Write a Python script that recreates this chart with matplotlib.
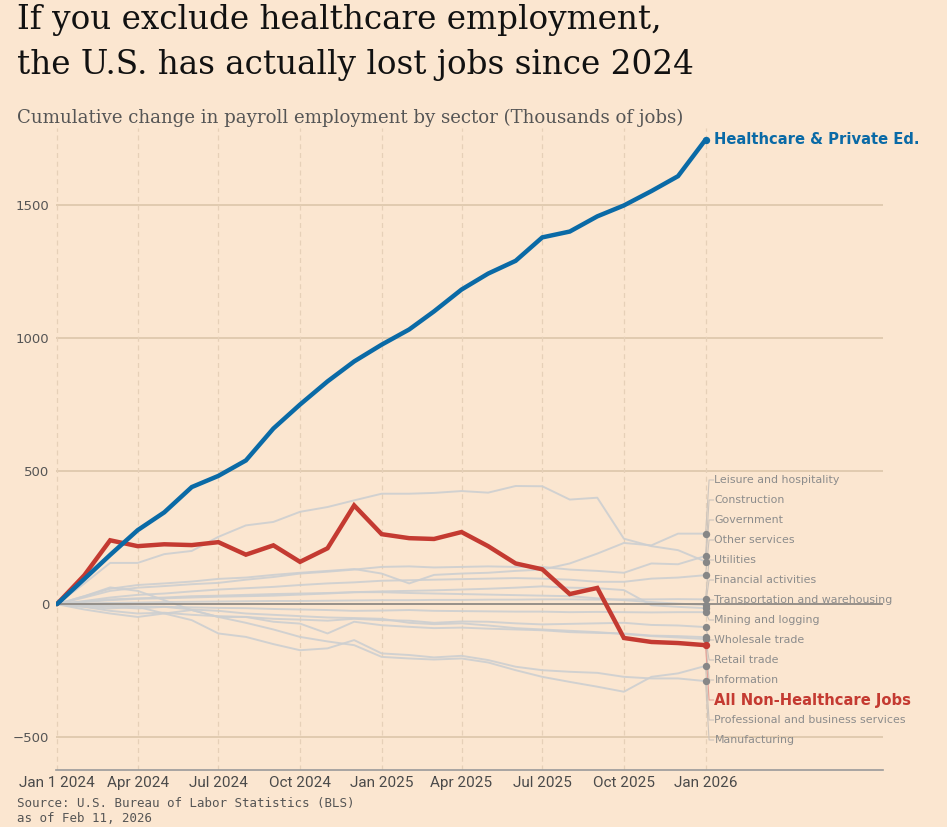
import matplotlib
matplotlib.use("Agg")
import matplotlib.pyplot as plt
import pandas as pd
import numpy as np

# ---------------- data ----------------
months = pd.date_range("2024-01-01", "2026-01-01", freq="MS")

healthcare = [0, 95, 185, 278, 345, 440, 482, 540, 660, 750, 837, 912,
              975, 1032, 1100, 1182, 1242, 1290, 1378, 1400, 1457, 1498, 1552, 1608, 1745]
non_healthcare = [0, 109, 240, 218, 225, 222, 233, 186, 221, 159, 210, 371,
                  263, 248, 245, 271, 218, 153, 131, 38, 61, -127, -142, -146, -154]

leisure = [0, 30, 58, 72, 78, 85, 95, 100, 110, 118, 125, 132,
           115, 78, 110, 115, 118, 125, 130, 153, 190, 230, 221, 265, 265]
construction = [0, 25, 50, 62, 68, 75, 80, 92, 102, 115, 122, 130,
                140, 142, 138, 140, 142, 140, 140, 130, 125, 118, 153, 150, 181]
government = [0, 78, 155, 155, 188, 200, 253, 296, 309, 347, 365, 390,
              415, 415, 418, 425, 419, 444, 443, 393, 400, 246, 218, 203, 160]
other_services = [0, 12, 25, 35, 40, 48, 55, 60, 65, 72, 78, 82,
                  88, 90, 92, 94, 96, 98, 96, 92, 84, 84, 96, 100, 109]
utilities = [0, 2, 5, 6, 8, 9, 10, 11, 12, 12, 13, 14,
             15, 15, 16, 16, 17, 17, 18, 18, 17, 18, 18, 19, 18]
financial = [0, 10, 18, 22, 25, 30, 32, 35, 38, 40, 42, 45,
             45, 42, 40, 38, 36, 34, 32, 30, 22, 15, 8, 2, -3]
transportation = [0, 8, 15, 20, 22, 25, 28, 30, 32, 36, 40, 45,
                  48, 50, 52, 55, 58, 62, 67, 62, 60, 53, -4, -10, -15]
mining = [0, -3, -5, -8, -10, -12, -14, -15, -18, -20, -22, -25,
          -24, -22, -25, -26, -27, -28, -28, -30, -29, -30, -31, -30, -30]
wholesale = [0, -10, -25, -35, -32, -40, -45, -48, -55, -58, -62, -55,
             -60, -62, -70, -65, -66, -72, -76, -74, -72, -70, -78, -80, -86]
retail = [0, -20, -35, -48, -35, -22, -48, -48, -66, -73, -110, -66,
          -79, -85, -90, -88, -92, -95, -98, -105, -108, -110, -118, -120, -124]
information = [0, -5, -10, -16, -10, -20, -25, -35, -40, -45, -50, -52,
               -55, -70, -75, -72, -80, -90, -95, -100, -105, -112, -120, -125, -131]
professional = [0, 30, 63, 50, 15, -22, -48, -70, -95, -123, -140, -154,
                -198, -204, -208, -204, -219, -248, -273, -292, -310, -329, -273, -260, -232]
manufacturing = [0, -10, -16, -10, -35, -60, -110, -123, -150, -173, -166, -135,
                 -185, -191, -200, -194, -210, -235, -248, -254, -258, -273, -279, -279, -289]

sector_names = ["Leisure and hospitality", "Construction", "Government", "Other services",
                "Utilities", "Financial activities", "Transportation and warehousing",
                "Mining and logging", "Wholesale trade", "Retail trade", "Information",
                "Professional and business services", "Manufacturing"]
sector_values = [leisure, construction, government, other_services, utilities, financial,
                 transportation, mining, wholesale, retail, information, professional,
                 manufacturing]

tick_dates = pd.to_datetime(["2024-01-01", "2024-04-01", "2024-07-01", "2024-10-01",
                             "2025-01-01", "2025-04-01", "2025-07-01", "2025-10-01",
                             "2026-01-01"])
tick_labels = ["Jan 1 2024", "Apr 2024", "Jul 2024", "Oct 2024", "Jan 2025",
               "Apr 2025", "Jul 2025", "Oct 2025", "Jan 2026"]
y_ticks = [-500, 0, 500, 1000, 1500]
y_tick_labels = ["\u2212500", "0", "500", "1000", "1500"]

# ---------------- style ----------------
BG = "#fbe6d0"
BLUE = "#0a6aa6"
RED = "#c43a31"
GRAY_LINE = "#cdcfd0"
GRID = "#dcc6aa"
LABEL_GRAY = "#8c8c8c"

fig = plt.figure(figsize=(9.47, 8.27), dpi=100, facecolor=BG)
W, H = 947, 827
ax = fig.add_axes([56 / W, 57 / H, 827 / W, 642 / H])
ax.set_facecolor(BG)

ymin, ymax = -623, 1789
ax.set_ylim(ymin, ymax)
x0 = pd.Timestamp("2024-01-01") - pd.Timedelta(days=1)
x1 = pd.Timestamp("2026-07-20")
ax.set_xlim(x0, x1)

for s in ["top", "right", "left"]:
    ax.spines[s].set_visible(False)
ax.spines["bottom"].set_color("#9a9a9a")
ax.spines["bottom"].set_linewidth(1.2)

# grid
for yv in [-500, 500, 1000, 1500]:
    ax.axhline(yv, color=GRID, lw=1.2, zorder=0)
for td in tick_dates:
    ax.axvline(td, color="#e6d0b8", lw=0.9, ls=(0, (4, 3)), zorder=0)
ax.axhline(0, color="#8f8a84", lw=1.3, zorder=1.5)

# gray sector lines
for vals in sector_values:
    ax.plot(months, vals, color=GRAY_LINE, lw=1.4, alpha=0.9, zorder=1)

ax.plot(months, non_healthcare, color=RED, lw=3.2, zorder=4, solid_capstyle="round",
        solid_joinstyle="miter")
ax.plot(months, healthcare, color=BLUE, lw=3.2, zorder=5, solid_capstyle="round",
        solid_joinstyle="miter")

end = months[-1]
for vals in sector_values:
    ax.scatter([end], [vals[-1]], s=28, color="#878787", zorder=3, linewidths=0)
ax.scatter([end], [non_healthcare[-1]], s=28, color=RED, zorder=6, linewidths=0)
ax.scatter([end], [healthcare[-1]], s=28, color=BLUE, zorder=6, linewidths=0)

# right-side labels
items = [(n, v[-1], LABEL_GRAY, "normal", 7.9, "#cdc5bd") for n, v in zip(sector_names, sector_values)]
items.append(("All Non-Healthcare Jobs", non_healthcare[-1], RED, "bold", 10.6, "#e5a096"))
items.sort(key=lambda t: -t[1])

px_per_unit = 642 / (ymax - ymin)
label_top_px = 770 - 480  # pixels above the bottom of the axes
for i, (name, endv, col, wt, fs, lc) in enumerate(items):
    ly = ymin + (label_top_px - 20 * i) / px_per_unit
    ax.plot([end, end + pd.Timedelta(days=4), end + pd.Timedelta(days=9)],
            [endv, ly, ly], color=lc, lw=0.8, zorder=2, clip_on=False)
    ax.text(end + pd.Timedelta(days=10), ly, name, color=col, fontsize=fs,
            fontweight=wt, va="center", ha="left", family="DejaVu Sans")

ax.text(end + pd.Timedelta(days=10), healthcare[-1], "Healthcare & Private Ed.", color=BLUE,
        fontsize=10.6, fontweight="bold", va="center", ha="left", family="DejaVu Sans")

# ticks
ax.set_xticks(tick_dates)
ax.set_xticklabels(tick_labels, family=["Liberation Sans Narrow", "Roboto"], fontsize=11,
                   color="#4a4a4a")
ax.set_yticks(y_ticks)
ax.set_yticklabels(y_tick_labels, family="DejaVu Sans", fontsize=9.5, color="#555555")
ax.tick_params(axis="x", length=0, pad=4)
ax.tick_params(axis="y", length=0, pad=5)

# titles
fig.text(17 / W, 1 - 29 / H, "If you exclude healthcare employment,",
         family="DejaVu Serif", fontsize=23.5, color="#111111", va="baseline", ha="left")
fig.text(17 / W, 1 - 74 / H, "the U.S. has actually lost jobs since 2024",
         family="DejaVu Serif", fontsize=23.5, color="#111111", va="baseline", ha="left")
fig.text(17 / W, 1 - 123 / H, "Cumulative change in payroll employment by sector (Thousands of jobs)",
         family="DejaVu Serif", fontsize=13.1, color="#555555", va="baseline", ha="left")
fig.text(17 / W, 1 - 797 / H, "Source: U.S. Bureau of Labor Statistics (BLS)\nas of Feb 11, 2026",
         family="DejaVu Sans Mono", fontsize=9, color="#555555", va="top", ha="left",
         linespacing=1.25)

fig.savefig("out.png", dpi=100, facecolor=BG)
